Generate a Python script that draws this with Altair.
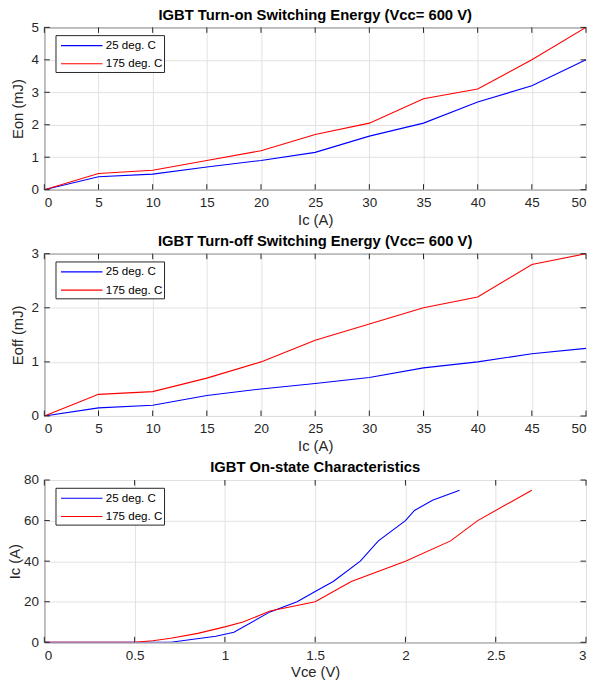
import altair as alt
import pandas as pd

series_names = ["25 deg. C", "175 deg. C"]
colors = ["#0000ff", "#ff0000"]

ic = [0, 5, 10, 15, 20, 25, 30, 35, 40, 45, 50]
eon_25 = [0, 0.40, 0.48, 0.70, 0.90, 1.15, 1.65, 2.05, 2.70, 3.20, 4.00]
eon_175 = [0, 0.50, 0.60, 0.90, 1.20, 1.70, 2.05, 2.80, 3.10, 4.00, 5.00]
eoff_25 = [0, 0.15, 0.20, 0.38, 0.50, 0.60, 0.71, 0.89, 1.00, 1.15, 1.25]
eoff_175 = [0, 0.40, 0.45, 0.70, 1.00, 1.40, 1.70, 2.00, 2.20, 2.80, 3.00]

vce_25 = [0, 0.5, 0.70, 0.95, 1.05, 1.25, 1.40, 1.50, 1.60, 1.75, 1.85, 2.00, 2.05, 2.15, 2.30]
icv_25 = [0, 0, 0, 3, 5, 15, 20, 25, 30, 40, 50, 60, 65, 70, 75]
vce_175 = [0, 0.5, 0.60, 0.70, 0.85, 1.00, 1.10, 1.25, 1.50, 1.70, 2.00, 2.25, 2.40, 2.70]
icv_175 = [0, 0, 0.8, 2, 4.4, 7.6, 10, 15.4, 20, 30, 40, 50, 60, 75]

x_ticks_ic = [0, 5, 10, 15, 20, 25, 30, 35, 40, 45, 50]
x_ticks_vce = [0, 0.5, 1, 1.5, 2, 2.5, 3]
y_ticks_eon = [0, 1, 2, 3, 4, 5]
y_ticks_eoff = [0, 1, 2, 3]
y_ticks_ic = [0, 20, 40, 60, 80]

FONT = "Liberation Sans"
AX = "#262626"
W, H = 544, 163
TL = 5.5  # inward tick length


def panel(title, xs_list, ys_list, xtitle, ytitle, xdom, ydom, xticks, yticks, ytitle_pad):
    xs_scale = alt.Scale(domain=xdom, nice=False)
    ys_scale = alt.Scale(domain=ydom, nice=False)
    xaxis = alt.Axis(title=xtitle, values=xticks, format="~r")
    yaxis = alt.Axis(title=ytitle, values=yticks, format="~r", titlePadding=ytitle_pad)
    X = lambda: alt.X("x:Q", scale=xs_scale, axis=xaxis)
    Y = lambda: alt.Y("y:Q", scale=ys_scale, axis=yaxis)
    layers = []
    for i, (name, xs, ys) in enumerate(zip(series_names, xs_list, ys_list)):
        df = pd.DataFrame({"x": xs, "y": ys})
        layers.append(
            alt.Chart(df).mark_line(strokeWidth=1.1, clip=True, color=colors[i])
            .encode(x=X(), y=Y())
        )
    # inward ticks (MATLAB style box ticks)
    xt = pd.DataFrame({"x": xticks})
    yt = pd.DataFrame({"y": yticks})
    for y0, y1 in [(H, H - TL), (0, TL)]:
        layers.append(alt.Chart(xt).mark_rule(color=AX, strokeWidth=1).encode(
            x=X(), y=alt.value(y0), y2=alt.value(y1)))
    for x0, x1 in [(0, TL), (W, W - TL)]:
        layers.append(alt.Chart(yt).mark_rule(color=AX, strokeWidth=1).encode(
            y=Y(), x=alt.value(x0), x2=alt.value(x1)))
    # legend box
    one = pd.DataFrame({"k": [0]})
    layers.append(alt.Chart(one).mark_rect(fill="#ffffff", stroke=AX, strokeWidth=1).encode(
        x=alt.value(11.7), x2=alt.value(120.7), y=alt.value(8.3), y2=alt.value(45.3)))
    for i, name in enumerate(series_names):
        yy = 18.3 + i * 18.3
        layers.append(alt.Chart(one).mark_rule(color=colors[i], strokeWidth=1.1).encode(
            x=alt.value(16.7), x2=alt.value(58.4), y=alt.value(yy)))
        layers.append(alt.Chart(one).mark_text(
            align="left", baseline="middle", font=FONT, fontSize=11.6, color="#000000"
        ).encode(x=alt.value(61.7), y=alt.value(yy + 0.5), text=alt.value(name)))
    return alt.layer(*layers).properties(
        width=W, height=H,
        title=alt.TitleParams(title, fontSize=14.85, fontWeight="bold", font=FONT,
                              color="#000000", offset=-2),
    )


p1 = panel("IGBT Turn-on Switching Energy (Vcc= 600 V)", [ic, ic], [eon_25, eon_175],
           "Ic (A)", "Eon (mJ)", [0, 50], [0, 5], x_ticks_ic, y_ticks_eon, 5)
p2 = panel("IGBT Turn-off Switching Energy (Vcc= 600 V)", [ic, ic], [eoff_25, eoff_175],
           "Ic (A)", "Eoff (mJ)", [0, 50], [0, 3], x_ticks_ic, y_ticks_eoff, 5)
p3 = panel("IGBT On-state Characteristics", [vce_25, vce_175], [icv_25, icv_175],
           "Vce (V)", "Ic (A)", [0, 3], [0, 80], x_ticks_vce, y_ticks_ic, 0.5)

chart = alt.vconcat(p1, p2, p3, spacing=64.3, bounds="flush").properties(
    padding={"left": -1.5, "top": -3, "right": 0, "bottom": 0}
).configure_view(
    stroke=AX, strokeWidth=1
).configure_axis(
    grid=True, gridColor="#e2e2e2", gridWidth=1,
    domain=False, ticks=False,
    labelFont=FONT, labelFontSize=13.5, labelColor=AX,
    titleFont=FONT, titleFontSize=14.85, titleColor=AX, titleFontWeight="normal",
).configure_axisX(labelPadding=6, titlePadding=3).configure_axisY(
    labelPadding=6
)

chart.save("out.html", embed_options={"renderer": "svg", "actions": False})
